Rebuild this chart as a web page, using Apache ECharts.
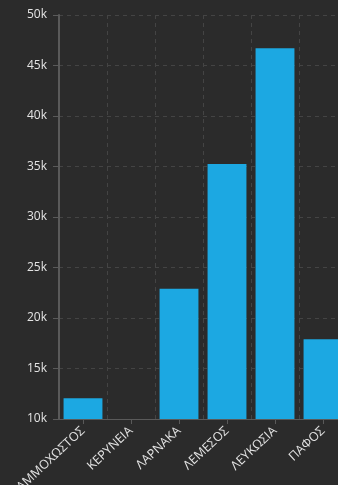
<!DOCTYPE html>
<html>
<head>
<meta charset="utf-8">
<script src="https://cdn.jsdelivr.net/npm/echarts@6/dist/echarts.min.js"></script>
<style>
html,body{margin:0;padding:0;background:#2b2b2b;}
#c{width:338px;height:485px;}
</style>
</head>
<body>
<div id="c"></div>
<script>
var categories = ['ΑΜΜΟΧΩΣΤΟΣ', 'ΚΕΡΥΝΕΙΑ', 'ΛΑΡΝΑΚΑ', 'ΛΕΜΕΣΟΣ', 'ΛΕΥΚΩΣΙΑ', 'ΠΑΦΟΣ'];
var values = [12050, 10000, 22900, 35250, 46700, 17900];
var yTicks = [10000, 15000, 20000, 25000, 30000, 35000, 40000, 45000, 50000];

var chart = echarts.init(document.getElementById('c'), null, {renderer: 'canvas'});
chart.setOption({
  backgroundColor: '#2b2b2b',
  animation: false,
  grid: {left: 59, width: 288, top: 15, height: 404, containLabel: false, outerBoundsMode: 'none'},
  xAxis: {
    type: 'category',
    data: categories,
    axisLine: {lineStyle: {color: '#5a5a5a', width: 1}},
    axisTick: {show: true, alignWithLabel: true, length: 5, lineStyle: {color: '#5a5a5a'}},
    splitLine: {show: true, lineStyle: {color: '#444444', type: [4, 4], width: 1}},
    axisLabel: {
      rotate: 43, interval: 0, margin: 10, hideOverlap: false,
      color: '#e4e4e4', fontSize: 12.5, fontFamily: 'Open Sans'
    }
  },
  yAxis: {
    type: 'value',
    min: yTicks[0], max: yTicks[yTicks.length - 1], interval: 5000,
    axisLine: {show: true, lineStyle: {color: '#5a5a5a', width: 2}},
    axisTick: {show: true, length: 6, lineStyle: {color: '#5a5a5a'}},
    splitLine: {show: true, lineStyle: {color: '#444444', type: [4, 4], width: 1}},
    axisLabel: {
      margin: 12, color: '#e4e4e4', fontSize: 12, fontFamily: 'Open Sans',
      formatter: function (v) { return (v / 1000) + 'k'; }
    }
  },
  series: [{
    type: 'bar',
    data: values,
    barCategoryGap: '19%',
    itemStyle: {color: '#1ca8e2'}
  }]
});
</script>
</body>
</html>
